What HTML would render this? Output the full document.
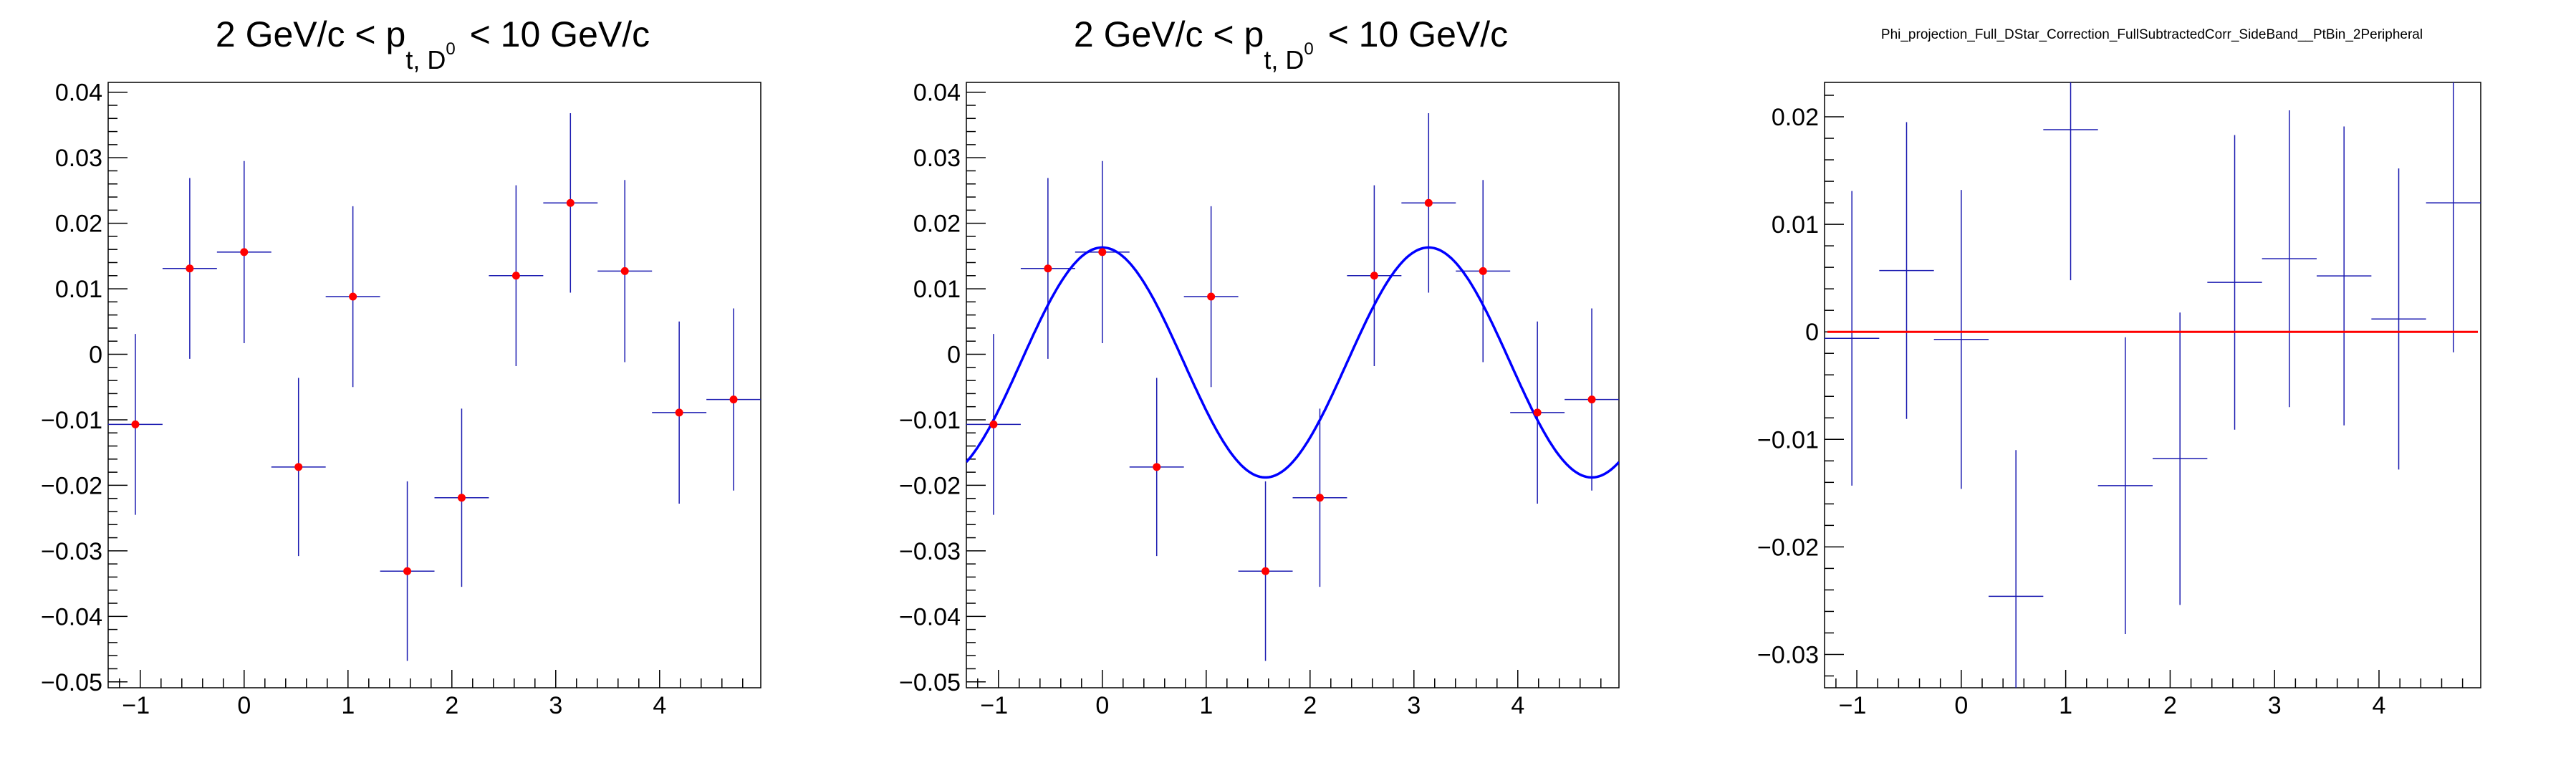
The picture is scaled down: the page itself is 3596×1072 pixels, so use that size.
<!DOCTYPE html>
<html><head><meta charset="utf-8"><style>
html,body{margin:0;padding:0;background:#fff;}
svg{display:block;font-family:"Liberation Sans",Arial,sans-serif;}
</style></head><body>
<svg id="root" width="3596" height="1072" viewBox="0 0 3596 1072"></svg>
<script>
const xCenters = [-1.0472,-0.5236,0,0.5236,1.0472,1.5708,2.0944,2.618,3.1416,3.6652,4.1888,4.7124];
const binHalf = 0.2618;
const vals1 = [-0.0107,0.0131,0.0156,-0.0172,0.0088,-0.0331,-0.0219,0.0120,0.0231,0.0127,-0.0089,-0.0069];
const errs1 = [0.0138,0.0138,0.0139,0.0136,0.0138,0.0137,0.0136,0.0138,0.0137,0.0139,0.0139,0.0139];
const vals3 = [-0.0006,0.0057,-0.0007,-0.0246,0.0188,-0.0143,-0.0118,0.0046,0.0068,0.0052,0.0012,0.0120];
const errs3 = [0.0137,0.0138,0.0139,0.0136,0.0140,0.0138,0.0136,0.0137,0.0138,0.0139,0.0140,0.0139];
const fitParams = [-0.00125, 0.01755]; // A + B*cos(2x)
const xTicks = [-1,0,1,2,3,4];
const yTicks1 = [0.04,0.03,0.02,0.01,0,-0.01,-0.02,-0.03,-0.04,-0.05];
const yTicks3 = [0.02,0.01,0,-0.01,-0.02,-0.03];

const NS="http://www.w3.org/2000/svg";
const root=document.getElementById('root');
function mk(tag,attrs,parent){const e=document.createElementNS(NS,tag);for(const k in attrs)e.setAttribute(k,attrs[k]);(parent||root).appendChild(e);return e;}
function fmt(v){if(v===0)return '0';const s=Math.abs(v).toFixed(2).replace(/^0+/,'0');return (v<0?'\u2212':'')+(Math.abs(v)>=1?Math.abs(v).toString():s);}

function panel(id,L,R,T,B,xmin,xmax,ymin,ymax,yTicks,vals,errs,opts){
  const g=mk('g',{});
  
  
  const sx=v=>L+(v-xmin)/(xmax-xmin)*(R-L);
  const sy=v=>B-(v-ymin)/(ymax-ymin)*(B-T);
  const fr=mk('rect',{x:L,y:T,width:R-L,height:B-T,fill:'none',stroke:'#000','stroke-width':1.5},g);
  
  
  for(let t=Math.ceil(xmin/0.2)*0.2;t<=xmax;t+=0.2){
    const tt=Math.round(t*10)/10;const maj=Math.abs(tt-Math.round(tt))<1e-6;
    const x=sx(tt);
    const tk=mk('line',{x1:x,x2:x,y1:B,y2:B-(maj?25:13),stroke:'#000','stroke-width':1.5},g);
    
    
  }
  xTicks.forEach(v=>{
    const t=mk('text',{x:sx(v)+(v<0?-6:0),y:B+36,'font-size':34,'text-anchor':'middle',fill:'#000'},g);
    t.textContent=v<0?'\u2212'+Math.abs(v):String(v);
    
    
  });
  for(let k=Math.ceil(ymin/0.002);k*0.002<=ymax;k++){
    const v=k*0.002;const maj=k%5===0;const y=sy(v);
    const tk=mk('line',{x1:L,x2:L+(maj?27:13),y1:y,y2:y,stroke:'#000','stroke-width':1.5},g);
    
    
  }
  yTicks.forEach(v=>{
    const t=mk('text',{x:L-8,y:sy(v)+12,'font-size':34,'text-anchor':'end',fill:'#000'},g);
    t.textContent=fmt(v);
    
    
  });
  const clip='clip-'+id;
  const cp=mk('clipPath',{id:clip},g);mk('rect',{x:L,y:T,width:R-L,height:B-T},cp);
  const dg=mk('g',{'clip-path':'url(#'+clip+')'},g);
  xCenters.forEach((xc,i)=>{
    const y=sy(vals[i]);
    const h=mk('line',{x1:sx(xc-binHalf),x2:sx(xc+binHalf),y1:y,y2:y,stroke:'#1a1ab0','stroke-width':1.5},dg);
    
    
    const v=mk('line',{x1:sx(xc),x2:sx(xc),y1:sy(vals[i]+errs[i]),y2:sy(vals[i]-errs[i]),stroke:'#1a1ab0','stroke-width':1.5},dg);
    
    
  });
  if(opts.fit){
    let d='';
    for(let k=0;k<=300;k++){const x=xmin+(xmax-xmin)*k/300;const y=fitParams[0]+fitParams[1]*Math.cos(2*x);d+=(k?'L':'M')+sx(x).toFixed(1)+','+sy(y).toFixed(1);}
    const p=mk('path',{d:d,fill:'none',stroke:'#0000ff','stroke-width':3.5},dg);
    
    
  }
  if(opts.zero){
    const z=mk('line',{x1:sx(xmin)+4,x2:sx(xmax)-4,y1:sy(0),y2:sy(0),stroke:'#ff0000','stroke-width':3},dg);
    
    
  }
  if(opts.markers){
    xCenters.forEach((xc,i)=>{
      const c=mk('circle',{cx:sx(xc),cy:sy(vals[i]),r:5.5,fill:'#ff0000'},dg);
      
      
    });
  }
  return {L,R};
}
function bigTitle(cx){
  const t=mk('text',{x:cx,y:65,'font-size':50,'text-anchor':'middle',fill:'#000'});
  
  
  const a=mk('tspan',{},t);a.textContent='2 GeV/c < p';
  const b=mk('tspan',{'font-size':36,dy:31},t);b.textContent='t, D';
  const c=mk('tspan',{'font-size':24,dy:-20},t);c.textContent='0';
  const d=mk('tspan',{'font-size':50,dy:-11,dx:6},t);d.textContent=' < 10 GeV/c';
}
const xmin=-1.309,xmax=4.974;
panel('panel-left',151,1062,115,960,xmin,xmax,-0.0509,0.0415,yTicks1,vals1,errs1,{markers:true});
panel('panel-middle',1349,2260,115,960,xmin,xmax,-0.0509,0.0415,yTicks1,vals1,errs1,{markers:true,fit:true});
panel('panel-right',2547,3463,115,960,xmin,xmax,-0.0331,0.0232,yTicks3,vals3,errs3,{zero:true});
bigTitle(604);
bigTitle(1802);
const t3=mk('text',{x:3004,y:54,'font-size':19,'text-anchor':'middle',fill:'#000'});
t3.textContent='Phi_projection_Full_DStar_Correction_FullSubtractedCorr_SideBand__PtBin_2Peripheral';


</script>
</body></html>
